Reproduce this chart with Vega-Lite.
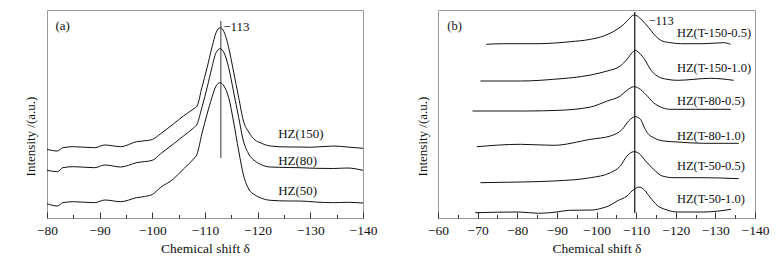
{
  "$schema": "https://vega.github.io/schema/vega-lite/v6.json",
  "padding": {"left": 23, "top": 9, "right": 0, "bottom": 0},
  "bounds": "flush",
  "spacing": 75,
  "config": {
    "font": "Liberation Serif",
    "view": {"stroke": "#999999", "strokeWidth": 1},
    "axis": {"grid": false, "labelFont": "Liberation Serif", "titleFont": "Liberation Serif", "labelColor": "#111", "titleColor": "#111", "titleFontWeight": "normal", "labelFontSize": 13.5, "titleFontSize": 13.5},
    "text": {"font": "Liberation Serif", "fontSize": 13, "color": "#111", "align": "left", "baseline": "middle"}
  },
  "datasets": {
    "curvesA": [
      {"s": "HZ(150)", "x": -80, "y": 68.7}, {"s": "HZ(150)", "x": -82, "y": 67}, {"s": "HZ(150)", "x": -83, "y": 70.3}, {"s": "HZ(150)", "x": -85, "y": 71.3}, {"s": "HZ(150)", "x": -89, "y": 70.3}, {"s": "HZ(150)", "x": -91, "y": 73}, {"s": "HZ(150)", "x": -94, "y": 71.3}, {"s": "HZ(150)", "x": -97, "y": 76.3}, {"s": "HZ(150)", "x": -99, "y": 77.5}, {"s": "HZ(150)", "x": -100, "y": 78.5}, {"s": "HZ(150)", "x": -101.5, "y": 84}, {"s": "HZ(150)", "x": -104, "y": 94}, {"s": "HZ(150)", "x": -105.9, "y": 102}, {"s": "HZ(150)", "x": -107.8, "y": 109}, {"s": "HZ(150)", "x": -108.5, "y": 112}, {"s": "HZ(150)", "x": -109.4, "y": 130.3}, {"s": "HZ(150)", "x": -110.4, "y": 150.3}, {"s": "HZ(150)", "x": -111.3, "y": 170.3}, {"s": "HZ(150)", "x": -112.1, "y": 185.3}, {"s": "HZ(150)", "x": -112.9, "y": 190.3}, {"s": "HZ(150)", "x": -113.6, "y": 186.3}, {"s": "HZ(150)", "x": -114.5, "y": 170.3}, {"s": "HZ(150)", "x": -115.4, "y": 147}, {"s": "HZ(150)", "x": -116.4, "y": 120.3}, {"s": "HZ(150)", "x": -117.3, "y": 97}, {"s": "HZ(150)", "x": -118.3, "y": 86}, {"s": "HZ(150)", "x": -119.5, "y": 78}, {"s": "HZ(150)", "x": -120.5, "y": 75.3}, {"s": "HZ(150)", "x": -122.4, "y": 72}, {"s": "HZ(150)", "x": -126, "y": 71}, {"s": "HZ(150)", "x": -128, "y": 71}, {"s": "HZ(150)", "x": -130, "y": 70.7}, {"s": "HZ(150)", "x": -134.4, "y": 72}, {"s": "HZ(150)", "x": -137, "y": 71}, {"s": "HZ(150)", "x": -140, "y": 69.7},
      {"s": "HZ(80)", "x": -80, "y": 47.7}, {"s": "HZ(80)", "x": -82, "y": 46.3}, {"s": "HZ(80)", "x": -83, "y": 50.3}, {"s": "HZ(80)", "x": -85, "y": 51.3}, {"s": "HZ(80)", "x": -89, "y": 50.3}, {"s": "HZ(80)", "x": -91, "y": 53}, {"s": "HZ(80)", "x": -94, "y": 51}, {"s": "HZ(80)", "x": -97, "y": 55.3}, {"s": "HZ(80)", "x": -100, "y": 57.7}, {"s": "HZ(80)", "x": -101.5, "y": 64}, {"s": "HZ(80)", "x": -104, "y": 74}, {"s": "HZ(80)", "x": -105.9, "y": 82}, {"s": "HZ(80)", "x": -107.8, "y": 90}, {"s": "HZ(80)", "x": -108.5, "y": 94}, {"s": "HZ(80)", "x": -109.4, "y": 110.3}, {"s": "HZ(80)", "x": -110.4, "y": 130.3}, {"s": "HZ(80)", "x": -111.3, "y": 150.3}, {"s": "HZ(80)", "x": -112.1, "y": 165.3}, {"s": "HZ(80)", "x": -112.9, "y": 169.3}, {"s": "HZ(80)", "x": -113.6, "y": 165.3}, {"s": "HZ(80)", "x": -114.5, "y": 150.3}, {"s": "HZ(80)", "x": -115.4, "y": 127}, {"s": "HZ(80)", "x": -116.4, "y": 100.3}, {"s": "HZ(80)", "x": -117.3, "y": 77}, {"s": "HZ(80)", "x": -118.3, "y": 64}, {"s": "HZ(80)", "x": -119.5, "y": 57}, {"s": "HZ(80)", "x": -120.5, "y": 53.7}, {"s": "HZ(80)", "x": -122.4, "y": 51}, {"s": "HZ(80)", "x": -126, "y": 50.5}, {"s": "HZ(80)", "x": -128, "y": 50.3}, {"s": "HZ(80)", "x": -131, "y": 49.7}, {"s": "HZ(80)", "x": -134.4, "y": 49.5}, {"s": "HZ(80)", "x": -137, "y": 50}, {"s": "HZ(80)", "x": -140, "y": 47.7},
      {"s": "HZ(50)", "x": -80, "y": 14.3}, {"s": "HZ(50)", "x": -82, "y": 12}, {"s": "HZ(50)", "x": -83, "y": 15.3}, {"s": "HZ(50)", "x": -85, "y": 16.3}, {"s": "HZ(50)", "x": -89, "y": 15.3}, {"s": "HZ(50)", "x": -91, "y": 18}, {"s": "HZ(50)", "x": -94, "y": 16.3}, {"s": "HZ(50)", "x": -97, "y": 20.3}, {"s": "HZ(50)", "x": -98.5, "y": 21.5}, {"s": "HZ(50)", "x": -100, "y": 23.5}, {"s": "HZ(50)", "x": -101.5, "y": 30.3}, {"s": "HZ(50)", "x": -104, "y": 39}, {"s": "HZ(50)", "x": -105.9, "y": 49}, {"s": "HZ(50)", "x": -107.8, "y": 59}, {"s": "HZ(50)", "x": -108.5, "y": 64}, {"s": "HZ(50)", "x": -109.4, "y": 84}, {"s": "HZ(50)", "x": -110.4, "y": 104}, {"s": "HZ(50)", "x": -111.3, "y": 120.3}, {"s": "HZ(50)", "x": -112.1, "y": 132}, {"s": "HZ(50)", "x": -112.9, "y": 135.3}, {"s": "HZ(50)", "x": -113.6, "y": 132}, {"s": "HZ(50)", "x": -114.5, "y": 120.3}, {"s": "HZ(50)", "x": -115.4, "y": 97}, {"s": "HZ(50)", "x": -116.4, "y": 67}, {"s": "HZ(50)", "x": -117.3, "y": 43}, {"s": "HZ(50)", "x": -118.3, "y": 29}, {"s": "HZ(50)", "x": -119.5, "y": 23}, {"s": "HZ(50)", "x": -120.5, "y": 20.3}, {"s": "HZ(50)", "x": -122.4, "y": 17.7}, {"s": "HZ(50)", "x": -126, "y": 17}, {"s": "HZ(50)", "x": -128, "y": 17}, {"s": "HZ(50)", "x": -131, "y": 16}, {"s": "HZ(50)", "x": -134.4, "y": 15.3}, {"s": "HZ(50)", "x": -137, "y": 15.7}, {"s": "HZ(50)", "x": -140, "y": 15}
    ],
    "labelsA": [
      {"t": "HZ(150)", "x": -123.9, "y": 83.7},
      {"t": "HZ(80)", "x": -123.9, "y": 57},
      {"t": "HZ(50)", "x": -123.9, "y": 27},
      {"t": "(a)", "x": -81.6, "y": 192},
      {"t": "−113", "x": -113.45, "y": 191}
    ],
    "ruleA": [{"x": -113, "y": 197, "y2": 60}],
    "curvesB": [
      {"s": "T-150-0.5", "x": -72.2, "y": 173.7}, {"s": "T-150-0.5", "x": -76.6, "y": 174.3}, {"s": "T-150-0.5", "x": -85, "y": 174.3}, {"s": "T-150-0.5", "x": -93.4, "y": 176.3}, {"s": "T-150-0.5", "x": -98.5, "y": 178.7}, {"s": "T-150-0.5", "x": -101.8, "y": 182}, {"s": "T-150-0.5", "x": -105.2, "y": 188.7}, {"s": "T-150-0.5", "x": -106.9, "y": 193.7}, {"s": "T-150-0.5", "x": -108.1, "y": 198.7}, {"s": "T-150-0.5", "x": -109.4, "y": 203}, {"s": "T-150-0.5", "x": -110.3, "y": 202}, {"s": "T-150-0.5", "x": -111.5, "y": 197.7}, {"s": "T-150-0.5", "x": -113.2, "y": 190.3}, {"s": "T-150-0.5", "x": -114.9, "y": 182}, {"s": "T-150-0.5", "x": -116.6, "y": 177}, {"s": "T-150-0.5", "x": -118.7, "y": 175.3}, {"s": "T-150-0.5", "x": -121.2, "y": 174.3}, {"s": "T-150-0.5", "x": -127.1, "y": 174.3}, {"s": "T-150-0.5", "x": -132.1, "y": 175.3}, {"s": "T-150-0.5", "x": -133.8, "y": 173.7},
      {"s": "T-150-1.0", "x": -70.7, "y": 137}, {"s": "T-150-1.0", "x": -80.8, "y": 137}, {"s": "T-150-1.0", "x": -89.2, "y": 138.7}, {"s": "T-150-1.0", "x": -98.5, "y": 143}, {"s": "T-150-1.0", "x": -102.7, "y": 147}, {"s": "T-150-1.0", "x": -106, "y": 152}, {"s": "T-150-1.0", "x": -107.7, "y": 158.7}, {"s": "T-150-1.0", "x": -109, "y": 165.3}, {"s": "T-150-1.0", "x": -109.8, "y": 167.7}, {"s": "T-150-1.0", "x": -110.7, "y": 165.3}, {"s": "T-150-1.0", "x": -112.4, "y": 157}, {"s": "T-150-1.0", "x": -113.6, "y": 148.7}, {"s": "T-150-1.0", "x": -115.3, "y": 142}, {"s": "T-150-1.0", "x": -117.8, "y": 138.7}, {"s": "T-150-1.0", "x": -120.4, "y": 137.7}, {"s": "T-150-1.0", "x": -128.8, "y": 139.7}, {"s": "T-150-1.0", "x": -134.6, "y": 137.7},
      {"s": "T-80-0.5", "x": -68.7, "y": 107}, {"s": "T-80-0.5", "x": -82.1, "y": 107}, {"s": "T-80-0.5", "x": -90.6, "y": 107.7}, {"s": "T-80-0.5", "x": -98.5, "y": 111}, {"s": "T-80-0.5", "x": -102.7, "y": 117}, {"s": "T-80-0.5", "x": -106, "y": 122}, {"s": "T-80-0.5", "x": -107.7, "y": 127.7}, {"s": "T-80-0.5", "x": -109.4, "y": 131.3}, {"s": "T-80-0.5", "x": -110.7, "y": 129.7}, {"s": "T-80-0.5", "x": -112.4, "y": 123.7}, {"s": "T-80-0.5", "x": -114.4, "y": 115.3}, {"s": "T-80-0.5", "x": -116.6, "y": 110.3}, {"s": "T-80-0.5", "x": -118.7, "y": 108.7}, {"s": "T-80-0.5", "x": -125, "y": 108.7}, {"s": "T-80-0.5", "x": -133.9, "y": 108.7},
      {"s": "T-80-1.0", "x": -69.8, "y": 71.3}, {"s": "T-80-1.0", "x": -80.8, "y": 73.7}, {"s": "T-80-1.0", "x": -89.2, "y": 72.7}, {"s": "T-80-1.0", "x": -98.5, "y": 78.7}, {"s": "T-80-1.0", "x": -103.5, "y": 82}, {"s": "T-80-1.0", "x": -106.5, "y": 88.7}, {"s": "T-80-1.0", "x": -108.1, "y": 97}, {"s": "T-80-1.0", "x": -109.8, "y": 101.3}, {"s": "T-80-1.0", "x": -111.1, "y": 98.7}, {"s": "T-80-1.0", "x": -111.9, "y": 92}, {"s": "T-80-1.0", "x": -112.8, "y": 85.3}, {"s": "T-80-1.0", "x": -114.4, "y": 80.3}, {"s": "T-80-1.0", "x": -117, "y": 77}, {"s": "T-80-1.0", "x": -120.4, "y": 76}, {"s": "T-80-1.0", "x": -127.1, "y": 74.7}, {"s": "T-80-1.0", "x": -135.9, "y": 74.7},
      {"s": "T-50-0.5", "x": -70.7, "y": 35.3}, {"s": "T-50-0.5", "x": -80.8, "y": 36}, {"s": "T-50-0.5", "x": -89.2, "y": 37}, {"s": "T-50-0.5", "x": -98.5, "y": 40.3}, {"s": "T-50-0.5", "x": -103.5, "y": 45.3}, {"s": "T-50-0.5", "x": -106, "y": 52}, {"s": "T-50-0.5", "x": -107.7, "y": 62}, {"s": "T-50-0.5", "x": -109.4, "y": 66.3}, {"s": "T-50-0.5", "x": -110.7, "y": 64.7}, {"s": "T-50-0.5", "x": -112.4, "y": 57}, {"s": "T-50-0.5", "x": -114.4, "y": 48.7}, {"s": "T-50-0.5", "x": -116.6, "y": 42}, {"s": "T-50-0.5", "x": -119.5, "y": 40.3}, {"s": "T-50-0.5", "x": -127.1, "y": 40.3}, {"s": "T-50-0.5", "x": -135.9, "y": 39.3},
      {"s": "T-50-1.0", "x": -69.4, "y": 5.3}, {"s": "T-50-1.0", "x": -75, "y": 5.8}, {"s": "T-50-1.0", "x": -80.4, "y": 6}, {"s": "T-50-1.0", "x": -85.4, "y": 4.7}, {"s": "T-50-1.0", "x": -90, "y": 6}, {"s": "T-50-1.0", "x": -93, "y": 7.7}, {"s": "T-50-1.0", "x": -98.9, "y": 8}, {"s": "T-50-1.0", "x": -101.5, "y": 10}, {"s": "T-50-1.0", "x": -103.1, "y": 12}, {"s": "T-50-1.0", "x": -105.2, "y": 17}, {"s": "T-50-1.0", "x": -107.7, "y": 22}, {"s": "T-50-1.0", "x": -109.4, "y": 28.5}, {"s": "T-50-1.0", "x": -110.7, "y": 31}, {"s": "T-50-1.0", "x": -111.9, "y": 28.7}, {"s": "T-50-1.0", "x": -113.6, "y": 20.3}, {"s": "T-50-1.0", "x": -115.3, "y": 12.7}, {"s": "T-50-1.0", "x": -117.8, "y": 8}, {"s": "T-50-1.0", "x": -120.4, "y": 6}, {"s": "T-50-1.0", "x": -127.1, "y": 6}, {"s": "T-50-1.0", "x": -133.9, "y": 8.7}
    ],
    "labelsB": [
      {"t": "HZ(T-150-0.5)", "x": -120.3, "y": 185.3},
      {"t": "HZ(T-150-1.0)", "x": -120.3, "y": 150.3},
      {"t": "HZ(T-80-0.5)", "x": -120.3, "y": 117},
      {"t": "HZ(T-80-1.0)", "x": -120.3, "y": 82},
      {"t": "HZ(T-50-0.5)", "x": -120.3, "y": 52},
      {"t": "HZ(T-50-1.0)", "x": -120.3, "y": 18.7},
      {"t": "(b)", "x": -62.35, "y": 192},
      {"t": "−113", "x": -113.1, "y": 197}
    ],
    "ruleB": [{"x": -109.65, "y": 206, "y2": 5}]
  },
  "hconcat": [
    {
      "width": 316,
      "height": 208,
      "layer": [
        {
          "data": {"name": "ruleA"},
          "mark": {"type": "rule", "color": "#7a7a7a", "strokeWidth": 1.5},
          "encoding": {
            "x": {"field": "x", "type": "quantitative"},
            "y": {"field": "y", "type": "quantitative"},
            "y2": {"field": "y2"}
          }
        },
        {
          "data": {"name": "curvesA"},
          "mark": {"type": "line", "color": "#111", "strokeWidth": 1, "interpolate": "monotone"},
          "encoding": {
            "x": {"field": "x", "type": "quantitative"},
            "y": {"field": "y", "type": "quantitative"},
            "detail": {"field": "s"}
          }
        },
        {
          "data": {"name": "labelsA"},
          "mark": {"type": "text"},
          "encoding": {
            "x": {"field": "x", "type": "quantitative"},
            "y": {"field": "y", "type": "quantitative"},
            "text": {"field": "t"}
          }
        }
      ],
      "encoding": {
        "x": {
          "field": "x", "type": "quantitative",
          "scale": {"domain": [-80, -140], "nice": false, "zero": false},
          "axis": {
            "title": "Chemical shift δ",
            "values": [-80, -85, -90, -95, -100, -105, -110, -115, -120, -125, -130, -135, -140],
            "format": "d",
            "labelExpr": "datum.value % 10 === 0 ? datum.label : ''",
            "labelFlush": false,
            "labelOverlap": false,
            "domain": false,
            "tickColor": "#333",
            "tickSize": {"condition": {"test": "datum.value % 10 !== 0", "value": -3.5}, "value": -6},
            "labelPadding": 11,
            "titleY": 30,
            "titleBaseline": "middle"
          }
        },
        "y": {
          "field": "y", "type": "quantitative",
          "scale": {"domain": [0, 208], "nice": false, "zero": false},
          "axis": {"title": "Intensity /(a.u.)", "titleFontSize": 13, "labels": false, "ticks": false, "domain": false, "titleX": -17, "titleY": 126, "titleBaseline": "middle"}
        }
      }
    },
    {
      "width": 317,
      "height": 208,
      "layer": [
        {
          "data": {"name": "ruleB"},
          "mark": {"type": "rule", "color": "#111", "strokeWidth": 1.2},
          "encoding": {
            "x": {"field": "x", "type": "quantitative"},
            "y": {"field": "y", "type": "quantitative"},
            "y2": {"field": "y2"}
          }
        },
        {
          "data": {"name": "curvesB"},
          "mark": {"type": "line", "color": "#111", "strokeWidth": 1, "interpolate": "monotone"},
          "encoding": {
            "x": {"field": "x", "type": "quantitative"},
            "y": {"field": "y", "type": "quantitative"},
            "detail": {"field": "s"}
          }
        },
        {
          "data": {"name": "labelsB"},
          "mark": {"type": "text", "fontSize": 12.5},
          "encoding": {
            "x": {"field": "x", "type": "quantitative"},
            "y": {"field": "y", "type": "quantitative"},
            "text": {"field": "t"}
          }
        }
      ],
      "encoding": {
        "x": {
          "field": "x", "type": "quantitative",
          "scale": {"domain": [-60, -140], "nice": false, "zero": false},
          "axis": {
            "title": "Chemical shift δ",
            "values": [-60, -65, -70, -75, -80, -85, -90, -95, -100, -105, -110, -115, -120, -125, -130, -135, -140],
            "format": "d",
            "labelExpr": "datum.value % 10 === 0 ? datum.label : ''",
            "labelFlush": false,
            "labelOverlap": false,
            "domain": false,
            "tickColor": "#333",
            "tickSize": {"condition": {"test": "datum.value % 10 !== 0", "value": -3.5}, "value": -6},
            "labelPadding": 11,
            "titleY": 30,
            "titleBaseline": "middle"
          }
        },
        "y": {
          "field": "y", "type": "quantitative",
          "scale": {"domain": [0, 208], "nice": false, "zero": false},
          "axis": {"title": "Intensity /(a.u.)", "titleFontSize": 13, "labels": false, "ticks": false, "domain": false, "titleX": -16, "titleY": 126, "titleBaseline": "middle"}
        }
      }
    }
  ]
}
